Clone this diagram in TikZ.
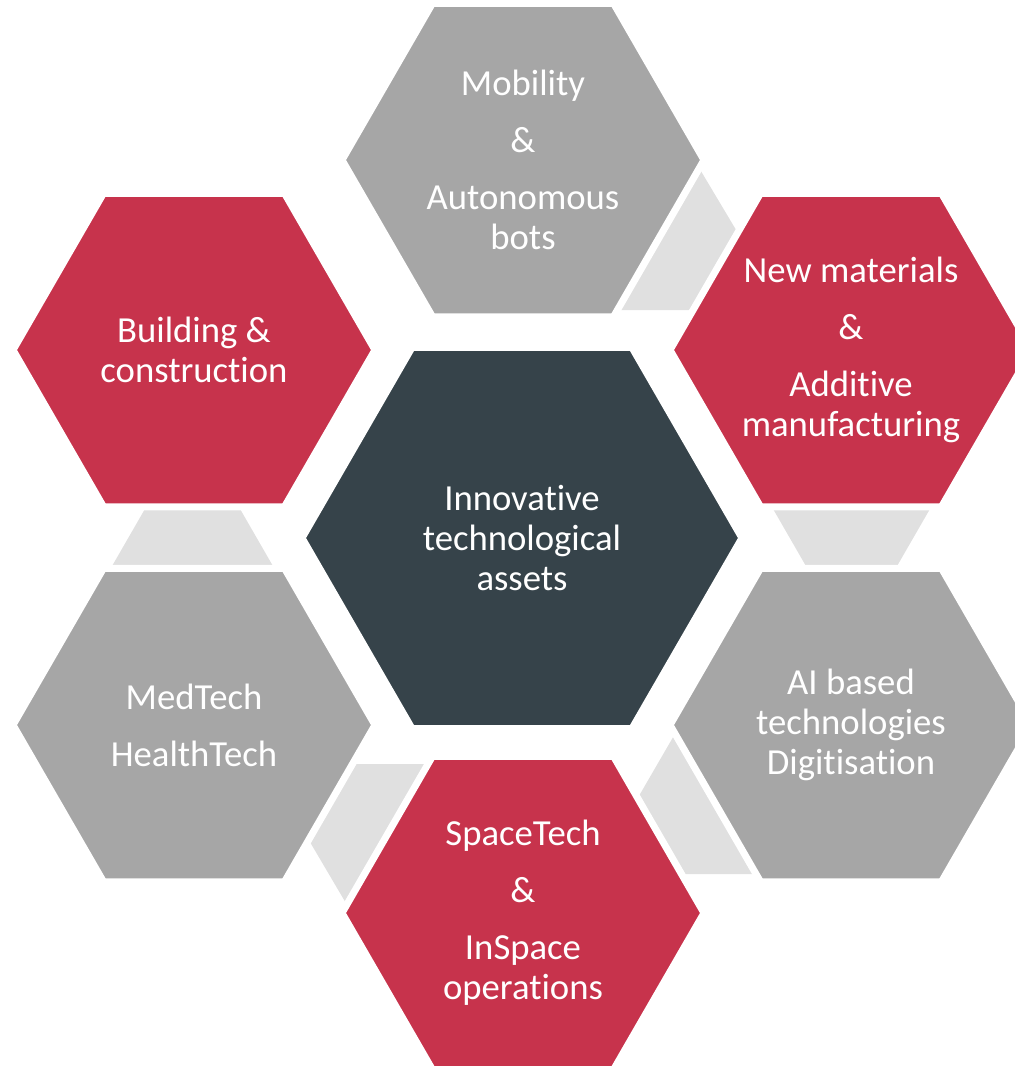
\documentclass[tikz,border=0pt]{standalone}
\usepackage{fontspec}
\usetikzlibrary{shapes.geometric}
\newfontfamily\hexfont[Ligatures={NoCommon,NoContextual}]{Carlito}
\definecolor{hexgrey}{HTML}{A6A6A6}
\definecolor{hexred}{HTML}{C7334C}
\definecolor{hexdark}{HTML}{36434A}
\definecolor{linkgrey}{HTML}{E0E0E0}
\newcommand\ti{t\kern0pt i}
\tikzset{
  hexa/.style={regular polygon, regular polygon sides=6, minimum size=362pt,
    inner sep=0pt, draw=white, line width=7pt, text=white, align=center,
    font={\hexfont\fontsize{36.7}{40}\selectfont}},
  greyhex/.style={hexa, fill=hexgrey},
  redhex/.style={hexa, fill=hexred},
  corehex/.style={hexa, fill=hexdark, minimum size=440pt},
  link/.style={fill=linkgrey}
}
\begin{document}
\begin{tikzpicture}[x=1pt, y=-1pt]
    \useasboundingbox (0,0) rectangle (1015,1066);
    \clip (0,0) rectangle (1015,1066);
    \fill [link] (686,146) -- (754,260) -- (720,310) -- (600,310) -- cycle;
    \fill [link] (153,495) -- (232,495) -- (281,580) -- (104,580) -- cycle;
    \fill [link] (765,495) -- (938,495) -- (889,580) -- (814,580) -- cycle;
    \fill [link] (683,720) -- (780,874) -- (660,874) -- (625,820) -- cycle;
    \fill [link] (330,764) -- (450,764) -- (350,910) -- (297,820) -- cycle;
    \node [corehex] (core) at (522,538) {Innova\ti ve\\technological\\assets};
    \node [greyhex] (mobility) at (523,160) {Mobility\\[17pt]\&\\[17pt]Autonomous\\bots};
    \node [redhex] (building) at (194,350) {Building \&\\construction};
    \node [redhex] (materials) at (851,350) {New materials\\[17pt]\&\\[17pt]Addi\ti ve\\manufacturing};
    \node [greyhex] (medtech) at (194,725) {MedTech\\[17pt]HealthTech};
    \node [greyhex] (ai) at (851,725) {AI based\\technologies\\Digi\ti sa\ti on};
    \node [redhex] (space) at (523,913) {SpaceTech\\[17pt]\&\\[17pt]InSpace\\operations};
\end{tikzpicture}
\end{document}
